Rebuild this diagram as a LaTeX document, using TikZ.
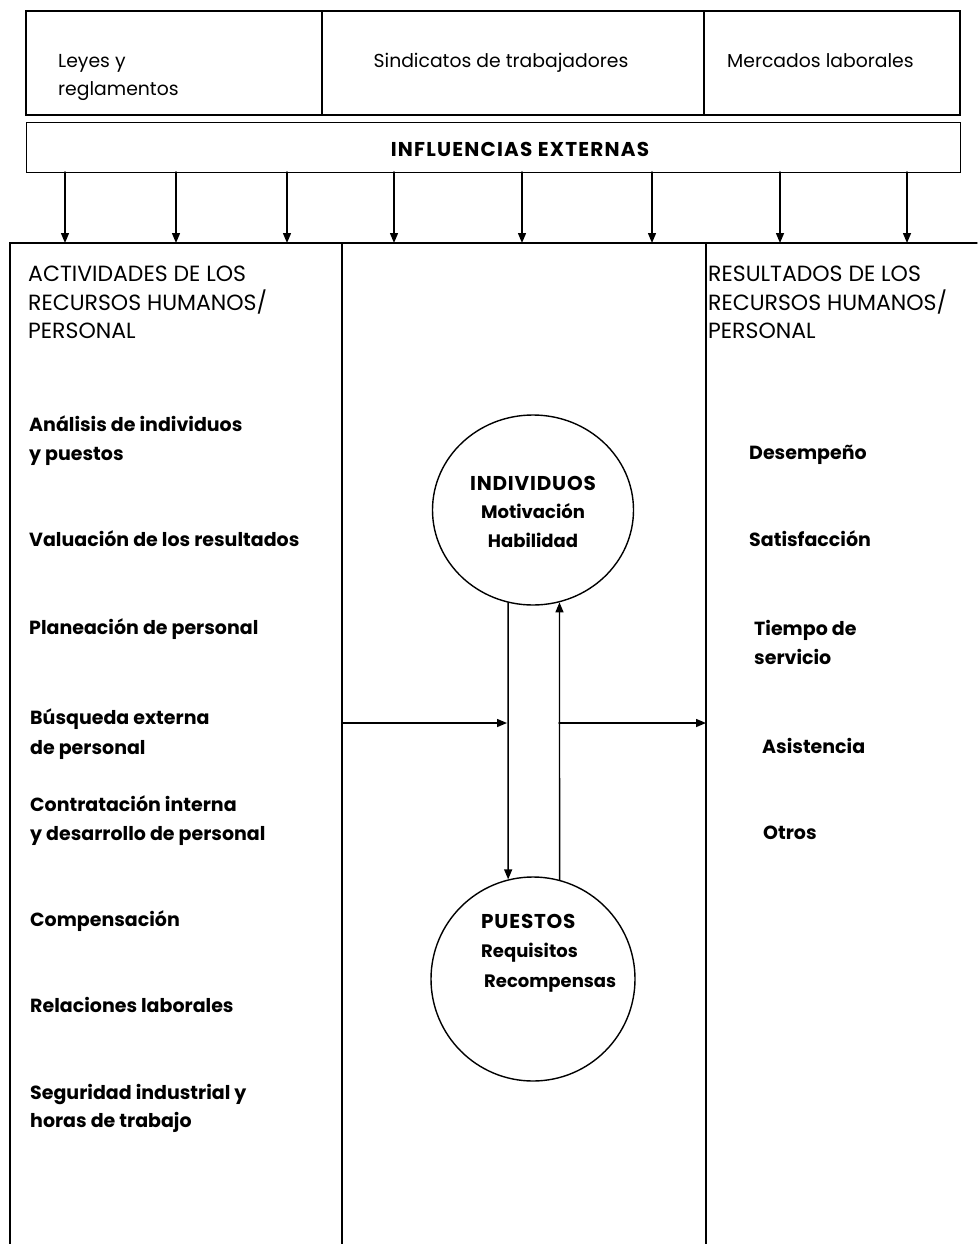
\documentclass[tikz,border=0pt]{standalone}
\usepackage{fontspec}
\setmainfont{Poppins}
\usetikzlibrary{arrows.meta,shapes.geometric}
\tikzset{
  ln/.style={line width=1.4pt, line cap=round},
  arr/.style={ln, -{Triangle[length=10pt,width=8pt]}},
  item/.style={anchor=base west, inner sep=0pt, font=\fontsize{19}{22}\selectfont\bfseries},
  hdr/.style={anchor=base west, inner sep=0pt, font=\fontsize{22}{24}\selectfont},
  toptxt/.style={anchor=base west, inner sep=0pt, font=\fontsize{18.8}{22}\selectfont},
  ctxt/.style={anchor=base, inner sep=0pt, font=\fontsize{18}{22}\selectfont\bfseries},
  citem/.style={anchor=base west, inner sep=0pt, font=\fontsize{18}{22}\selectfont\bfseries},
  ccaps/.style={font=\fontsize{20}{22}\selectfont\bfseries\addfontfeatures{LetterSpace=4}},
}
\begin{document}
\begin{tikzpicture}[x=1pt,y=-1pt]
\useasboundingbox (0,0) rectangle (977,1244);
% top box
\draw[ln] (26,11) rectangle (960,115);
\draw[ln] (322,11) -- (322,115);
\draw[ln] (704,11) -- (704,115);
\node[draw, ln, minimum width=934pt, minimum height=50pt, inner sep=0pt, anchor=north west] (inf) at (26,122) {};
\node[toptxt] (leyes) at (58,68) {Leyes y};
\node[toptxt] (regl) at (58,96) {reglamentos};
\node[toptxt, anchor=base] (sind) at (501,68) {Sindicatos de trabajadores};
\node[toptxt] (merc) at (727,68) {Mercados laborales};
\node[anchor=base, inner sep=0pt, font=\fontsize{20}{22}\selectfont\bfseries\addfontfeatures{LetterSpace=6}] (inft) at (520,157) {INFLUENCIAS EXTERNAS};
% lower frame
\draw[ln] (10,1244) -- (10,243) -- (977,243);
\draw[ln] (342,243) -- (342,1244);
\draw[ln] (706,243) -- (706,1244);
% down arrows
\foreach \i/\x in {1/65,2/176,3/287,4/394,5/522,6/652,7/780,8/907}{
  \coordinate (a\i) at (\x,172);
  \coordinate (b\i) at (\x,243);
  \draw[arr] (a\i) -- (b\i);
}
% headers
\node[hdr] (h1) at (28,281) {ACTIVIDADES DE LOS};
\node[hdr] (h2) at (28,310) {RECURSOS HUMANOS/};
\node[hdr] (h3) at (28,338) {PERSONAL};
\node[hdr] (r1) at (708,281) {RESULTADOS DE LOS};
\node[hdr] (r2) at (708,310) {RECURSOS HUMANOS/};
\node[hdr] (r3) at (708,338) {PERSONAL};
% left list
\node[item] (l1) at (29,431) {Análisis de individuos};
\node[item] (l1b) at (29,460) {y puestos};
\node[item] (l2) at (29,546) {Valuación de los resultados};
\node[item] (l3) at (29,634) {Planeación de personal};
\node[item] (l4) at (30,724) {Búsqueda externa};
\node[item] (l4b) at (30,754) {de personal};
\node[item] (l5) at (30,811) {Contratación interna};
\node[item] (l5b) at (30,840) {y desarrollo de personal};
\node[item] (l6) at (30,926) {Compensación};
\node[item] (l7) at (30,1012) {Relaciones laborales};
\node[item] (l8) at (30,1099) {Seguridad industrial y};
\node[item] (l8b) at (30,1127) {horas de trabajo};
% right list
\node[item] (o1) at (749,459) {Desempeño};
\node[item] (o2) at (749,546) {Satisfacción};
\node[item] (o3) at (754,635) {Tiempo de};
\node[item] (o3b) at (754,664) {servicio};
\node[item] (o4) at (762,753) {Asistencia};
\node[item] (o5) at (763,839) {Otros};
% circles
\node[draw, ln, ellipse, minimum width=201pt, minimum height=190pt, inner sep=0pt] (ind) at (533,510) {};
\node[draw, ln, circle, minimum size=204pt, inner sep=0pt] (pue) at (533,979) {};
\node[ctxt, ccaps] (t1) at (533,490) {INDIVIDUOS};
\node[ctxt] (t2) at (533,518) {Motivación};
\node[ctxt] (t3) at (533,547) {Habilidad};
\node[citem, ccaps] (p1) at (481,928) {PUESTOS};
\node[citem] (p2) at (481,957) {Requisitos};
\node[citem] (p3) at (484,987) {Recompensas};
% connectors between circles
\draw[arr] (ind.-105.8) -- (pue.104.8);
\draw[arr] (pue.75.2) -- (ind.-74.2);
% horizontal arrows
\coordinate (hL) at (342,723);
\coordinate (hLe) at (507,723);
\coordinate (hR) at (559,723);
\coordinate (hRe) at (706,723);
\draw[arr] (hL) -- (hLe);
\draw[arr] (hR) -- (hRe);
\end{tikzpicture}
\end{document}
